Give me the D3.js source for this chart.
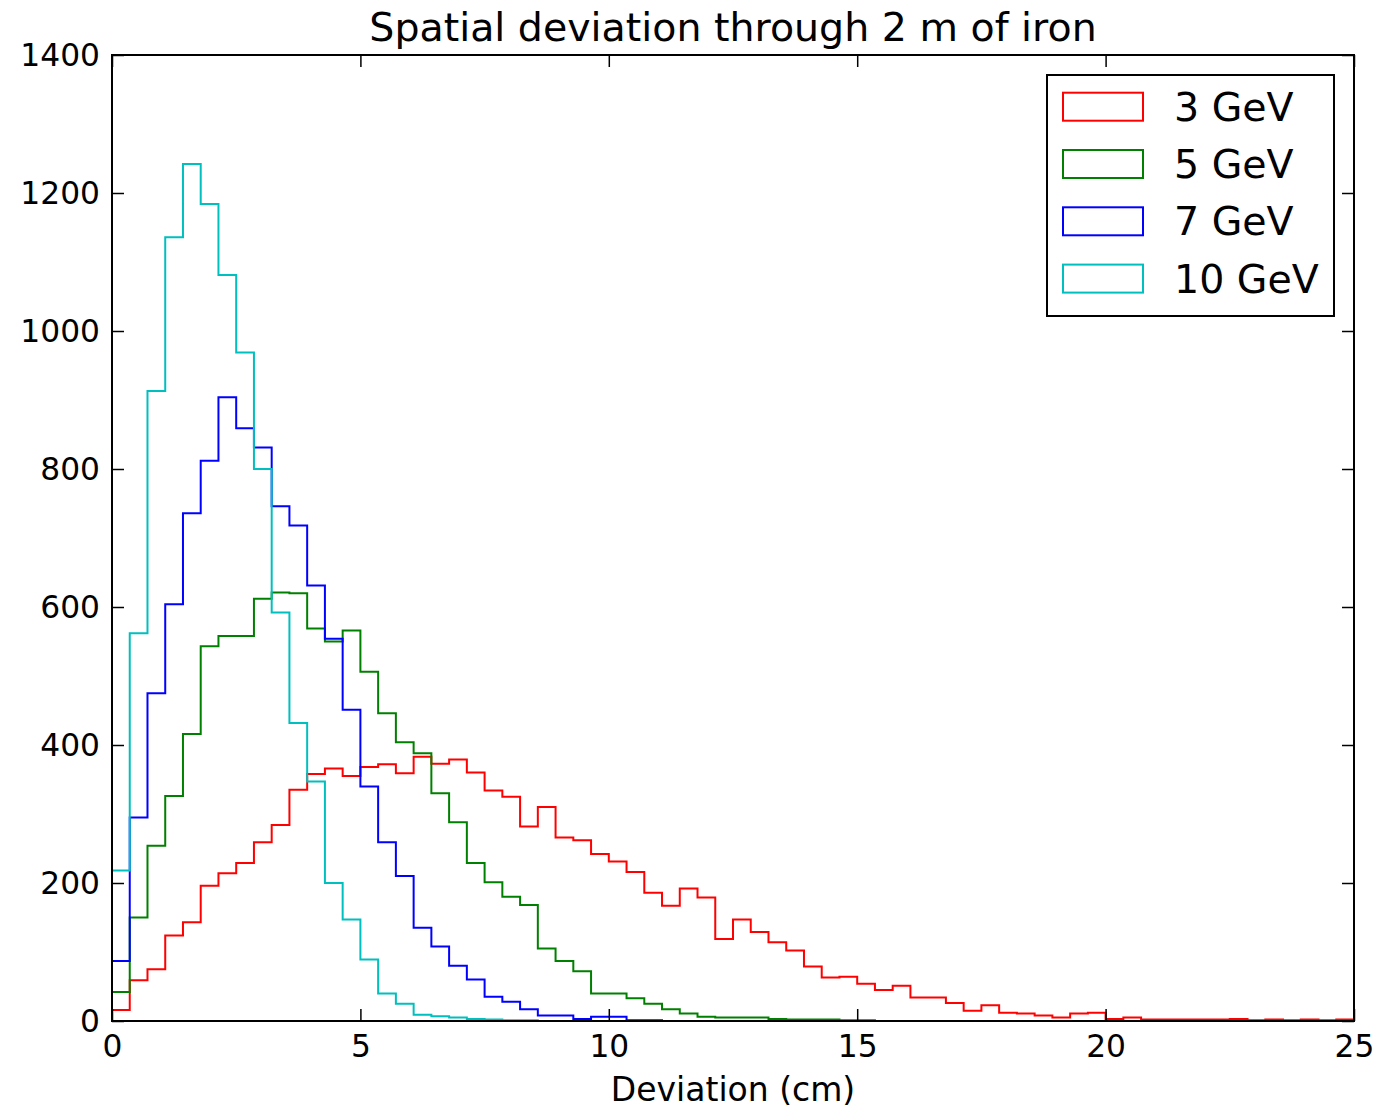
<!DOCTYPE html>
<html lang="en">
	<head>
		<meta charset="utf-8">
		<title>Spatial deviation through 2 m of iron</title>
		<script type="text/javascript" src="https://cdn.jsdelivr.net/npm/d3@7"></script>
		<style type="text/css">

body {
  margin: 0;
  background: #fff;
}

svg {
  font-family: "DejaVu Sans", sans-serif;
}

.title {
  font-size: 39.5px;
  fill: black;
}

.label {
  font-size: 33px;
  fill: black;
}

.axis text {
  font-size: 31.3px;
  fill: black;
}

.axis line {
  stroke: #000;
  stroke-width: 1.5;
}

.legend_labels {
  font-size: 39.5px;
  fill: black;
}

.hist {
  fill: none;
  stroke-width: 2;
}

		</style>
	</head>
	<body>
		<script type="text/javascript">

			// histogram bins: 70 equal bins between 0 and 25 cm
			var binCount = 70,
			    binMin = 0,
			    binMax = 25;

			var seriesNames = ["3 GeV", "5 GeV", "7 GeV", "10 GeV"];
			var seriesColors = ["#ff0000", "#008000", "#0000ff", "#00bfbf"];

			// counts per bin
			var counts3GeV = [16, 59, 75, 124, 143, 196, 214, 229, 259, 284,
				335, 358, 366, 355, 368, 372, 359, 383, 373, 379,
				360, 334, 325, 282, 310, 266, 262, 242, 231, 216,
				186, 167, 192, 179, 119, 147, 129, 114, 102, 79,
				63, 64, 54, 45, 51, 34, 34, 26, 15, 23,
				12, 11, 8, 5, 11, 12, 3, 5, 2, 2,
				2, 2, 2, 3, 1, 2, 1, 2, 1, 2];

			var counts5GeV = [42, 150, 254, 326, 416, 543, 558, 558, 612, 621,
				620, 569, 550, 566, 506, 446, 404, 388, 330, 288,
				229, 201, 180, 168, 105, 87, 72, 40, 40, 33,
				25, 17, 11, 6, 5, 5, 5, 3, 2, 2,
				2, 1, 1, 0, 0, 0, 0, 0, 0, 0,
				0, 0, 0, 0, 0, 0, 0, 0, 0, 0,
				0, 0, 0, 0, 0, 0, 0, 0, 0, 0];

			var counts7GeV = [87, 295, 475, 604, 736, 812, 904, 859, 831, 746,
				718, 631, 554, 451, 340, 259, 210, 135, 108, 80,
				60, 35, 28, 17, 8, 8, 3, 6, 6, 1,
				1, 0, 0, 0, 0, 0, 0, 0, 0, 0,
				0, 0, 0, 0, 0, 0, 0, 0, 0, 0,
				0, 0, 0, 0, 0, 0, 0, 0, 0, 0,
				0, 0, 0, 0, 0, 0, 0, 0, 0, 0];

			var counts10GeV = [218, 562, 913, 1136, 1242, 1184, 1081, 969, 800, 592,
				432, 347, 200, 147, 89, 40, 25, 9, 7, 5,
				3, 2, 1, 1, 0, 0, 0, 0, 0, 0,
				0, 0, 0, 0, 0, 0, 0, 0, 0, 0,
				0, 0, 0, 0, 0, 0, 0, 0, 0, 0,
				0, 0, 0, 0, 0, 0, 0, 0, 0, 0,
				0, 0, 0, 0, 0, 0, 0, 0, 0, 0];

			var xTicks = [0, 5, 10, 15, 20, 25];
			var yTicks = [0, 200, 400, 600, 800, 1000, 1200, 1400];

			var allCounts = [counts3GeV, counts5GeV, counts7GeV, counts10GeV];

			var width = 1374,
			    height = 1110;

			var plot = {left: 112, right: 1354, top: 55, bottom: 1021};

			var svg = d3.select("body")
						.append("svg")
							.attr("width", width)
							.attr("height", height);

			var xScale = d3.scaleLinear()
				.domain([0, 25])
				.range([plot.left, plot.right]);

			var yScale = d3.scaleLinear()
				.domain([0, 1400])
				.range([plot.bottom, plot.top]);

			var binWidth = (binMax - binMin) / binCount;

			// step outline like matplotlib histtype='step'
			var line = d3.line()
				.x(function(d) { return xScale(d[0]); })
				.y(function(d) { return yScale(d[1]); })
				.curve(d3.curveStepAfter);

			function outline(counts) {
				var pts = [[binMin, 0]];
				counts.forEach(function(c, i) {
					pts.push([binMin + i * binWidth, c]);
				});
				pts.push([binMax, 0]);
				return pts;
			}

			svg.append("defs").append("clipPath")
				.attr("id", "clip")
				.append("rect")
					.attr("x", plot.left)
					.attr("y", plot.top)
					.attr("width", plot.right - plot.left)
					.attr("height", plot.bottom - plot.top);

			svg.append("g")
				.attr("clip-path", "url(#clip)")
				.selectAll("path")
				.data(allCounts)
				.enter()
				.append("path")
					.attr("class", "hist")
					.attr("stroke", function(d, i) { return seriesColors[i]; })
					.attr("d", function(d) { return line(outline(d)); });

			// axes, ticks pointing inward on all four sides
			var tickLen = 12;

			var xAxis = d3.axisBottom(xScale)
				.tickValues(xTicks)
				.tickSizeInner(-tickLen)
				.tickSizeOuter(0)
				.tickPadding(14)
				.tickFormat(d3.format("d"));

			var yAxis = d3.axisLeft(yScale)
				.tickValues(yTicks)
				.tickSizeInner(-tickLen)
				.tickSizeOuter(0)
				.tickPadding(12)
				.tickFormat(d3.format("d"));

			svg.append("g")
				.attr("class", "x axis")
				.attr("transform", "translate(0," + plot.bottom + ")")
				.call(xAxis);

			svg.append("g")
				.attr("class", "y axis")
				.attr("transform", "translate(" + plot.left + ",0)")
				.call(yAxis);

			svg.append("g")
				.attr("class", "axis")
				.attr("transform", "translate(0," + plot.top + ")")
				.call(d3.axisTop(xScale).tickValues(xTicks).tickSizeInner(-tickLen).tickSizeOuter(0).tickFormat(""));

			svg.append("g")
				.attr("class", "axis")
				.attr("transform", "translate(" + plot.right + ",0)")
				.call(d3.axisRight(yScale).tickValues(yTicks).tickSizeInner(-tickLen).tickSizeOuter(0).tickFormat(""));

			svg.selectAll(".axis .domain").remove();
			svg.selectAll(".axis text").attr("font-family", "DejaVu Sans, sans-serif");

			// frame
			svg.append("rect")
				.attr("x", plot.left)
				.attr("y", plot.top)
				.attr("width", plot.right - plot.left)
				.attr("height", plot.bottom - plot.top)
				.attr("fill", "none")
				.attr("stroke", "#000")
				.attr("stroke-width", 2);

			svg.append("text")
				.attr("class", "title")
				.attr("x", (plot.left + plot.right) / 2)
				.attr("y", 41)
				.attr("text-anchor", "middle")
				.text("Spatial deviation through 2 m of iron");

			svg.append("text")
				.attr("class", "label")
				.attr("x", (plot.left + plot.right) / 2)
				.attr("y", 1101)
				.attr("text-anchor", "middle")
				.text("Deviation (cm)");

			// legend
			var legend = {x: 1047, y: 75, w: 287, h: 241, rowH: 57.3};

			svg.append("rect")
				.attr("x", legend.x)
				.attr("y", legend.y)
				.attr("width", legend.w)
				.attr("height", legend.h)
				.attr("fill", "#fff")
				.attr("stroke", "#000")
				.attr("stroke-width", 2);

			var rows = svg.selectAll(".legend_row")
				.data(seriesNames)
				.enter()
				.append("g")
					.attr("class", "legend_row")
					.attr("transform", function(d, i) {
						return "translate(" + legend.x + "," + (legend.y + 31.7 + i * legend.rowH) + ")";
					});

			rows.append("rect")
				.attr("x", 16)
				.attr("y", -14)
				.attr("width", 80)
				.attr("height", 28)
				.attr("fill", "none")
				.attr("stroke-width", 2)
				.attr("stroke", function(d, i) { return seriesColors[i]; });

			rows.append("text")
				.attr("class", "legend_labels")
				.attr("x", 127)
				.attr("y", 14)
				.text(function(d) { return d; });

		</script>
	</body>
</html>
